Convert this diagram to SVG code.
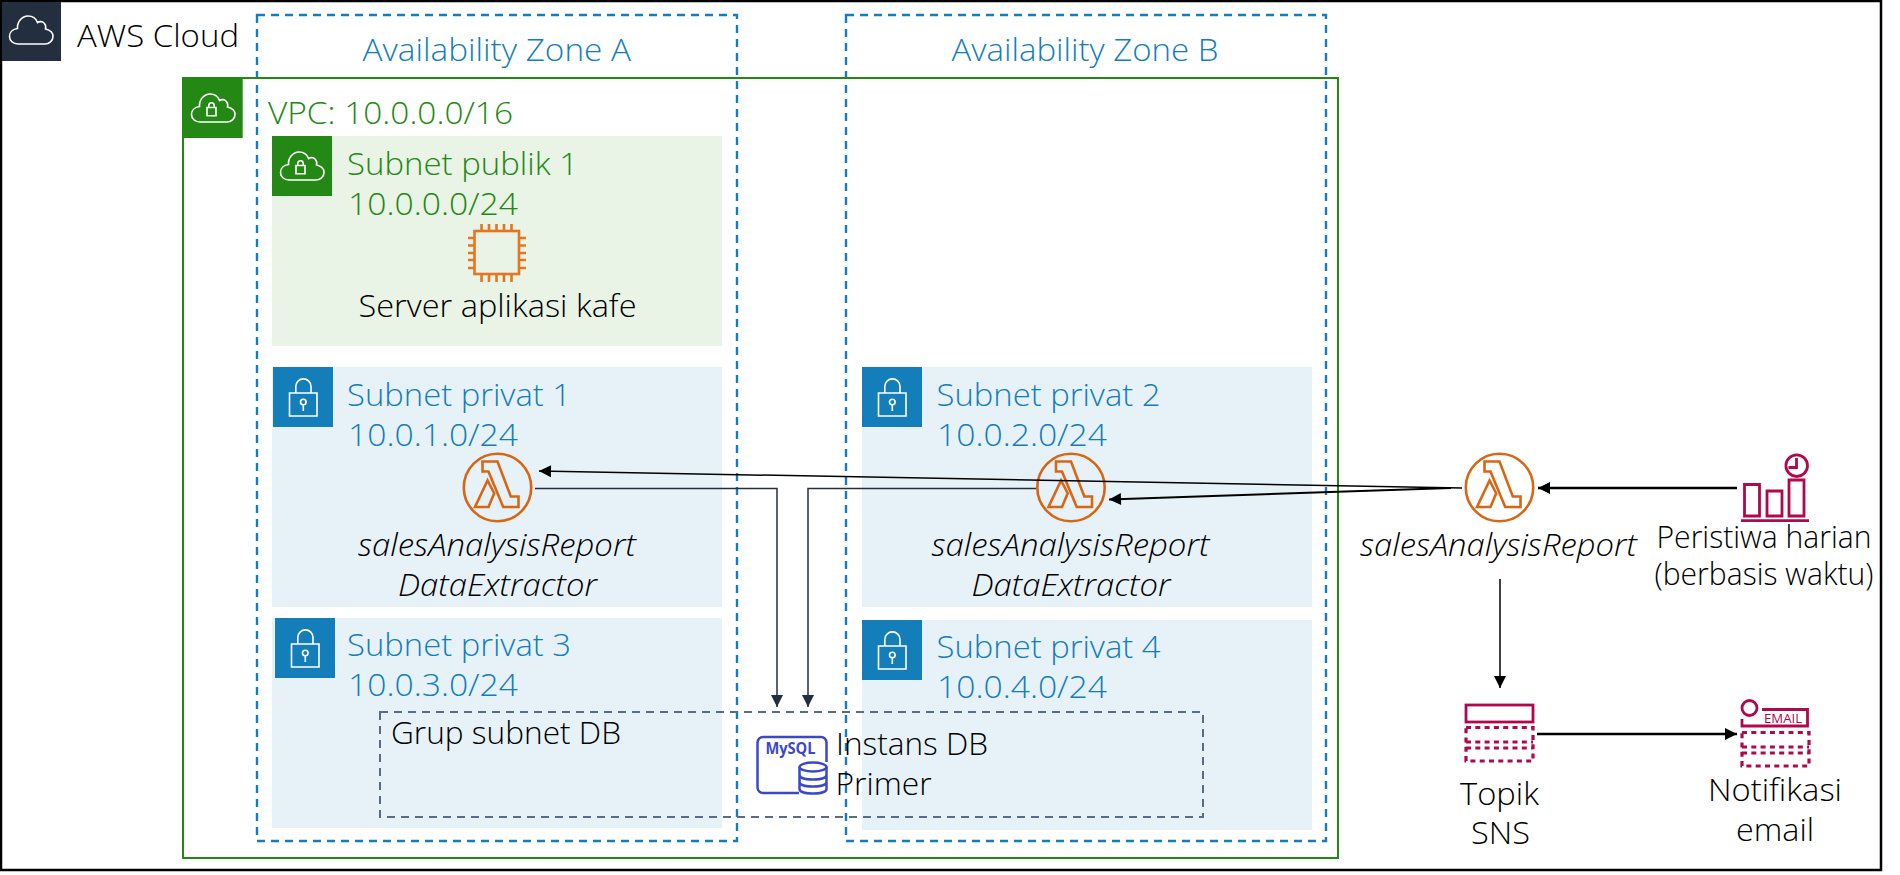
<svg xmlns="http://www.w3.org/2000/svg" width="1900" height="875" viewBox="0 0 1900 875">
<style>
text{font-family:"Open Sans","Noto Sans",sans-serif;font-weight:300;font-size:32px;fill:#000}
.blue{fill:#147EBA}.green{fill:#248814}.it{font-style:italic}
.zone{fill:none;stroke:#147EBA;stroke-width:2.400;stroke-dasharray:8 6}
.pub{fill:#E9F3E6}.priv{fill:#E6F2F8}
.ic{fill:none;stroke:#fff;stroke-width:1.600}
.or{fill:none;stroke:#D86613;stroke-width:2.600}
.pk{fill:none;stroke:#B0084D;stroke-width:2.800}
.dot{fill:none;stroke:#B0084D;stroke-width:3.200;stroke-dasharray:5 4.300}
.cn{fill:none;stroke:#232F3E;stroke-width:1.500}
.bk{fill:none;stroke:#000;stroke-width:2.500}
.bk1{fill:none;stroke:#000;stroke-width:1.500}
</style>
<defs>
<marker id="hk" markerUnits="userSpaceOnUse" markerWidth="14" markerHeight="14" refX="13" refY="7" orient="auto"><path d="M1 1L13 7L1 13Z" fill="#000"/></marker>
<marker id="hd" markerUnits="userSpaceOnUse" markerWidth="14" markerHeight="14" refX="13" refY="7" orient="auto"><path d="M1 1L13 7L1 13Z" fill="#232F3E"/></marker>
<path id="cloud" d="M17 44C12 44 8.500 40.500 8.500 36.500C8.500 32 12 29 16.500 28.500C16 22 21 16 27 16C31.500 16 35 18.500 36.500 22.500C38.500 21 41.500 21.500 43 23C44.500 24.500 45 27 44.500 29C49 30 52 33 52 36.500C52 41 48 44 44 44Z"/>
<g id="cl"><use href="#cloud" class="ic"/><path class="ic" d="M24 29.500h9v8.300h-9zM25.800 29.500v-2a2.700 2.700 0 0 1 5.400 0v2"/></g>
<g id="lock"><path class="ic" d="M16.500 26h27.500v23h-27.500zM22.800 26v-6.500a7.600 7.600 0 0 1 15.200 0v6.500M30.300 38v6"/><circle class="ic" cx="30.300" cy="35" r="2.800"/></g>
<g id="lam"><circle class="or" r="33.700"/><path class="or" d="M-15-26H0L13.300 9H21V19.500H5.700L-9-16H-15ZM-10-7L-22.500 19.500H-9L-3.300 5.700Z"/></g>
<g id="grid"><path class="dot" d="M1 1.500H68V35H1ZM1 16H68M1 22H68"/></g>
</defs>
<rect width="1900" height="875" fill="#fff"/>
<g id="aws-cloud"><rect x="1" y="1" width="1880" height="869" fill="none" stroke="#000" stroke-width="2.500"/><rect x="2" y="2" width="59" height="59" fill="#232F3E"/><use href="#cloud" x="1" class="ic"/><text x="77" y="47" textLength="162" lengthAdjust="spacingAndGlyphs">AWS Cloud</text></g>
<g id="zone-a"><rect class="zone" x="257" y="15" width="480" height="826"/><text class="blue" x="362.500" y="61" textLength="268.500" lengthAdjust="spacingAndGlyphs">Availability Zone A</text></g>
<g id="zone-b"><rect class="zone" x="846" y="15" width="480" height="826"/><text class="blue" x="951.500" y="61" textLength="267" lengthAdjust="spacingAndGlyphs">Availability Zone B</text></g>
<g id="vpc"><rect x="183" y="78" width="1155" height="780" fill="none" stroke="#248814" stroke-width="2"/><rect x="182.700" y="78" width="60" height="60" fill="#248814"/><use href="#cl" x="183" y="78"/><text class="green" x="268" y="124" textLength="245" lengthAdjust="spacingAndGlyphs">VPC: 10.0.0.0/16</text></g>
<g id="subnet-publik-1"><rect class="pub" x="272" y="136" width="450" height="210"/><rect x="272" y="136" width="60" height="60" fill="#248814"/><use href="#cl" x="272" y="136"/><text class="green" x="347" y="175" textLength="231" lengthAdjust="spacingAndGlyphs">Subnet publik 1</text><text class="green" x="348" y="215" textLength="170" lengthAdjust="spacingAndGlyphs">10.0.0.0/24</text></g>
<g id="app-server"><rect x="474.500" y="231" width="44.500" height="43" fill="none" stroke="#E57520" stroke-width="2.600"/><path fill="none" stroke="#E57520" stroke-width="2.600" d="M481.500 224v7M489 224v7M496.500 224v7M504 224v7M511.500 224v7M481.500 274v8M489 274v8M496.500 274v8M504 274v8M511.500 274v8M468 238h6M468 245.500h6M468 253h6M468 260h6M468 268h6M519 238h7M519 245.500h7M519 253h7M519 260h7M519 268h7"/><text x="358.500" y="317" textLength="278" lengthAdjust="spacingAndGlyphs">Server aplikasi kafe</text></g>
<g id="subnet-privat-1"><rect class="priv" x="272" y="367" width="450" height="240"/><rect x="273" y="367" width="60" height="60" fill="#147EBA"/><use href="#lock" x="273" y="367"/><text class="blue" x="347" y="406" textLength="224" lengthAdjust="spacingAndGlyphs">Subnet privat 1</text><text class="blue" x="348" y="446" textLength="170" lengthAdjust="spacingAndGlyphs">10.0.1.0/24</text></g>
<g id="subnet-privat-2"><rect class="priv" x="862" y="367" width="450" height="240"/><rect x="862" y="367" width="60" height="60" fill="#147EBA"/><use href="#lock" x="862" y="367"/><text class="blue" x="936.500" y="406" textLength="224" lengthAdjust="spacingAndGlyphs">Subnet privat 2</text><text class="blue" x="937" y="446" textLength="170" lengthAdjust="spacingAndGlyphs">10.0.2.0/24</text></g>
<g id="subnet-privat-3"><rect class="priv" x="272" y="618" width="450" height="210"/><rect x="275" y="618" width="60" height="60" fill="#147EBA"/><use href="#lock" x="275" y="618"/><text class="blue" x="347" y="656" textLength="224" lengthAdjust="spacingAndGlyphs">Subnet privat 3</text><text class="blue" x="348" y="696" textLength="170" lengthAdjust="spacingAndGlyphs">10.0.3.0/24</text></g>
<g id="subnet-privat-4"><rect class="priv" x="862" y="620" width="450" height="210"/><rect x="862" y="620" width="60" height="60" fill="#147EBA"/><use href="#lock" x="862" y="620"/><text class="blue" x="936.500" y="658" textLength="224" lengthAdjust="spacingAndGlyphs">Subnet privat 4</text><text class="blue" x="937" y="698" textLength="170" lengthAdjust="spacingAndGlyphs">10.0.4.0/24</text></g>
<g id="lambda-1"><use href="#lam" x="497.500" y="487.500"/><text class="it" x="358" y="556" textLength="278" lengthAdjust="spacingAndGlyphs">salesAnalysisReport</text><text class="it" x="398" y="596" textLength="199" lengthAdjust="spacingAndGlyphs">DataExtractor</text></g>
<g id="lambda-2"><use href="#lam" x="1071" y="487.500"/><text class="it" x="931.500" y="556" textLength="278" lengthAdjust="spacingAndGlyphs">salesAnalysisReport</text><text class="it" x="971.500" y="596" textLength="199" lengthAdjust="spacingAndGlyphs">DataExtractor</text></g>
<g id="db-subnet-group"><rect x="380" y="712" width="823" height="105" fill="none" stroke="#5A6B86" stroke-width="2" stroke-dasharray="8 6"/><text x="391" y="744" textLength="230" lengthAdjust="spacingAndGlyphs">Grup subnet DB</text></g>
<g id="db-instance"><path fill="none" stroke="#3B48CC" stroke-width="2.500" d="M799 793H763a5.500 5.500 0 0 1-5.500-5.500V742.500A5.500 5.500 0 0 1 763 737H821a5.500 5.500 0 0 1 5.500 5.500V762"/><ellipse cx="813" cy="767" rx="13.500" ry="4.500" fill="#fff" stroke="#3B48CC" stroke-width="2.500"/><path fill="none" stroke="#3B48CC" stroke-width="2.500" d="M799.500 767V789C799.500 795 826.500 795 826.500 789V767M799.500 775C799.500 781 826.500 781 826.500 775M799.500 782C799.500 788 826.500 788 826.500 782"/><text x="765.500" y="754" textLength="50" lengthAdjust="spacingAndGlyphs" style="fill:#3B48CC;font-size:16px;font-weight:700">MySQL</text><text x="836" y="755" textLength="152" lengthAdjust="spacingAndGlyphs">Instans DB</text><text x="835.500" y="795" textLength="96" lengthAdjust="spacingAndGlyphs">Primer</text></g>
<g id="lambda-3"><use href="#lam" x="1499.500" y="487.500"/><text class="it" x="1360" y="556" textLength="277" lengthAdjust="spacingAndGlyphs">salesAnalysisReport</text></g>
<g id="daily-event"><path class="pk" d="M1741 520.700H1809M1744.500 484.500h15v31.500h-15zM1767 491h15v25h-15zM1789 480h15v36h-15zM1796.500 458v9.500h-8"/><circle class="pk" cx="1796.700" cy="465.700" r="10.800"/><text x="1656.500" y="548" textLength="215" lengthAdjust="spacingAndGlyphs">Peristiwa harian</text><text x="1654.500" y="585" textLength="219" lengthAdjust="spacingAndGlyphs">(berbasis waktu)</text></g>
<g id="sns-topic"><rect class="pk" x="1466" y="705" width="67" height="17"/><use href="#grid" x="1465" y="726"/><text x="1460" y="805" textLength="79" lengthAdjust="spacingAndGlyphs">Topik</text><text x="1471" y="844" textLength="59" lengthAdjust="spacingAndGlyphs">SNS</text></g>
<g id="email-notification"><circle class="pk" cx="1749.500" cy="708" r="7.500"/><path class="pk" d="M1762 709.500H1807.500V726H1742V719"/><text x="1764" y="723" textLength="38" lengthAdjust="spacingAndGlyphs" style="fill:#B0084D;font-size:13px;font-weight:400">EMAIL</text><use href="#grid" x="1741" y="731"/><text x="1708" y="801" textLength="134" lengthAdjust="spacingAndGlyphs">Notifikasi</text><text x="1736" y="841" textLength="78" lengthAdjust="spacingAndGlyphs">email</text></g>
<g id="connectors">
<path class="bk1" d="M1462 488L539 471" marker-end="url(#hk)"/>
<path class="bk" style="stroke-width:2" d="M1451 488L1109 499.500" marker-end="url(#hk)"/>
<path class="cn" d="M535 488.500H777V707" marker-end="url(#hd)"/>
<path class="cn" d="M1036 488.500H808V707" marker-end="url(#hd)"/>
<path class="bk" d="M1737 488H1538" marker-end="url(#hk)"/>
<path class="bk1" d="M1500 579V688" marker-end="url(#hk)"/>
<path class="bk" d="M1537 734H1737" marker-end="url(#hk)"/>
</g>
</svg>
